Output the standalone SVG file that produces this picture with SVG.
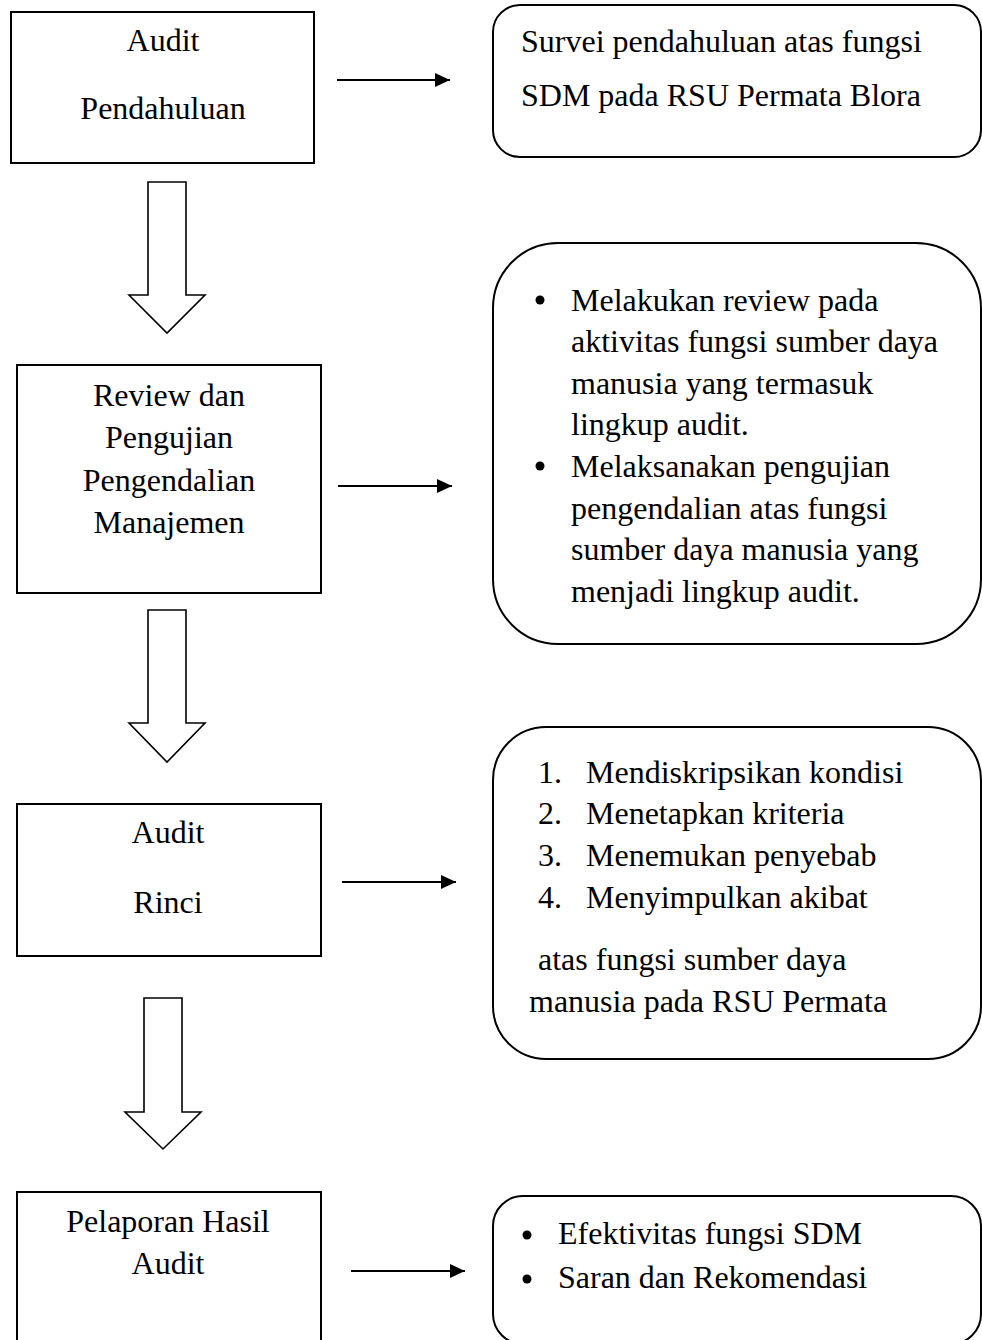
<svg xmlns="http://www.w3.org/2000/svg" width="982" height="1340" viewBox="0 0 982 1340">
<defs>
<style>
.box{fill:#fff;stroke:#000;stroke-width:2}
.rbox{fill:#fff;stroke:#000;stroke-width:2}
.blk{fill:#fff;stroke:#000;stroke-width:1.6;stroke-linejoin:miter}
.conn{stroke:#000;stroke-width:2.2;fill:none}
text{font-family:"Liberation Serif","Times New Roman",serif;font-size:32px;fill:#000}
.c{text-anchor:middle}
</style>
<marker id="ah" markerUnits="userSpaceOnUse" markerWidth="16" markerHeight="16" viewBox="0 0 16 16" refX="15" refY="8" orient="auto">
<path d="M0,1 L15,8 L0,15 Z" fill="#000"/>
</marker>
</defs>
<rect width="982" height="1340" fill="#fff"/>

<g id="connectors">
<line class="conn" x1="337" y1="80" x2="450" y2="80" marker-end="url(#ah)"/>
<line class="conn" x1="338" y1="486" x2="452" y2="486" marker-end="url(#ah)"/>
<line class="conn" x1="342" y1="882" x2="456" y2="882" marker-end="url(#ah)"/>
<line class="conn" x1="351" y1="1271" x2="465" y2="1271" marker-end="url(#ah)"/>
<polygon class="blk" points="148,182 186,182 186,295 205,295 167,333 129,295 148,295"/>
<polygon class="blk" points="148,610 186,610 186,723 205,723 167,762 129,723 148,723"/>
<polygon class="blk" points="144,998 182,998 182,1112 201,1112 163,1149 125,1112 144,1112"/>
</g>

<g id="n1">
<rect class="box" x="11" y="12" width="303" height="151"/>
<text class="c" x="163" y="51">Audit</text>
<text class="c" x="163" y="119">Pendahuluan</text>
</g>

<g id="n1r">
<rect class="rbox" x="493" y="5" width="488" height="152" rx="27" ry="27"/>
<text x="521" y="52">Survei pendahuluan atas fungsi</text>
<text x="521" y="106">SDM pada RSU Permata Blora</text>
</g>

<g id="n2">
<rect class="box" x="17" y="365" width="304" height="228"/>
<text class="c" x="169" y="406">Review dan</text>
<text class="c" x="169" y="448">Pengujian</text>
<text class="c" x="169" y="491">Pengendalian</text>
<text class="c" x="169" y="533">Manajemen</text>
</g>

<g id="n2r">
<rect class="rbox" x="493" y="243" width="488" height="401" rx="65" ry="65"/>
<circle cx="540" cy="300" r="4.5"/>
<circle cx="540" cy="466" r="4.5"/>
<text x="571" y="311">Melakukan review pada</text>
<text x="571" y="352">aktivitas fungsi sumber daya</text>
<text x="571" y="394">manusia yang termasuk</text>
<text x="571" y="435">lingkup audit.</text>
<text x="571" y="477">Melaksanakan pengujian</text>
<text x="571" y="519">pengendalian atas fungsi</text>
<text x="571" y="560">sumber daya manusia yang</text>
<text x="571" y="602">menjadi lingkup audit.</text>
</g>

<g id="n3">
<rect class="box" x="17" y="804" width="304" height="152"/>
<text class="c" x="168" y="843">Audit</text>
<text class="c" x="168" y="913">Rinci</text>
</g>

<g id="n3r">
<rect class="rbox" x="493" y="727" width="488" height="332" rx="53" ry="53"/>
<text x="538" y="783">1.</text>
<text x="586" y="783">Mendiskripsikan kondisi</text>
<text x="538" y="824">2.</text>
<text x="586" y="824">Menetapkan kriteria</text>
<text x="538" y="866">3.</text>
<text x="586" y="866">Menemukan penyebab</text>
<text x="538" y="908">4.</text>
<text x="586" y="908">Menyimpulkan akibat</text>
<text x="538" y="970">atas fungsi sumber daya</text>
<text x="529" y="1012">manusia pada RSU Permata</text>
</g>

<g id="n4">
<rect class="box" x="17" y="1192" width="304" height="170"/>
<text class="c" x="168" y="1232">Pelaporan Hasil</text>
<text class="c" x="168" y="1274">Audit</text>
</g>

<g id="n4r">
<rect class="rbox" x="493" y="1196" width="488" height="148" rx="30" ry="30"/>
<circle cx="527" cy="1235" r="4.5"/>
<circle cx="527" cy="1279" r="4.5"/>
<text x="558" y="1244">Efektivitas fungsi SDM</text>
<text x="558" y="1288">Saran dan Rekomendasi</text>
</g>
</svg>
